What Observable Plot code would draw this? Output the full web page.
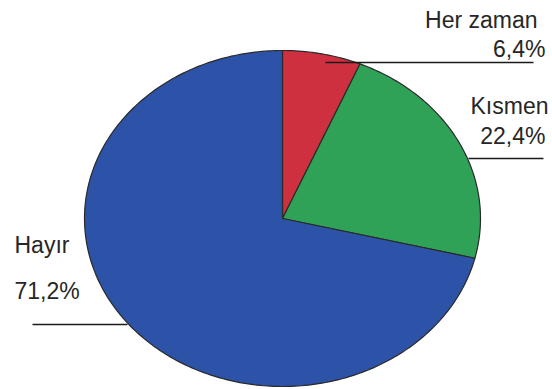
<!DOCTYPE html>
<html>
<head>
<meta charset="utf-8">
<script src="https://cdn.jsdelivr.net/npm/d3@7"></script>
<script src="https://cdn.jsdelivr.net/npm/@observablehq/plot@0.6"></script>
<style>
  html, body { margin: 0; padding: 0; background: #fff; }
  #chart svg { display: block; }
</style>
</head>
<body>
<div id="chart"></div>
<script>
// ---- data ----
const categories = ["Her zaman", "Kısmen", "Hayır"];
const values = [6.4, 22.4, 71.2];
const valueLabels = ["6,4%", "22,4%", "71,2%"];
const colors = ["#cf3040", "#2fa257", "#2c53a8"];

// ---- layout (pixel geometry of the elliptical pie) ----
const W = 552, H = 389;
const CX = 282, CY = 218, RX = 198, RY = 168;
const toX = px => (px - CX) / RX;
const toY = py => (CY - py) / RY;

// slices from values via d3.pie (clockwise from 12 o'clock)
const pie = d3.pie().sort(null).value(d => d.value);
const table = categories.map((c, i) => ({category: c, value: values[i]}));
const arcs = pie(table);
const slicePts = [];
arcs.forEach(a => {
  const key = a.data.category;
  slicePts.push({key, x: 0, y: 0});
  const steps = Math.max(4, Math.ceil((a.endAngle - a.startAngle) / (Math.PI / 180)));
  for (let k = 0; k <= steps; k++) {
    const t = a.startAngle + (a.endAngle - a.startAngle) * k / steps;
    slicePts.push({key, x: Math.sin(t), y: Math.cos(t)});
  }
  slicePts.push({key, x: 0, y: 0});
});

// label placement (annotation layout, in pixels)
const labelLayout = [
  {name: [537, 27], pct: [545, 56], line: [[325, 62], [533, 62]], anchor: "end"},
  {name: [548, 113], pct: [545, 143], line: [[468, 158], [543, 158]], anchor: "end"},
  {name: [14, 252], pct: [14, 298], line: [[32, 324], [127, 324]], anchor: "start"}
];
const nameText = categories.map((c, i) => ({text: c, x: toX(labelLayout[i].name[0]), y: toY(labelLayout[i].name[1]), anchor: labelLayout[i].anchor}));
const pctText = valueLabels.map((v, i) => ({text: v, x: toX(labelLayout[i].pct[0]), y: toY(labelLayout[i].pct[1]), anchor: labelLayout[i].anchor}));
const leaders = labelLayout.map(l => ({x1: toX(l.line[0][0]), y1: toY(l.line[0][1]), x2: toX(l.line[1][0]), y2: toY(l.line[1][1])}));

const textOpts = {fontSize: 23, fill: "#262626", lineAnchor: "bottom", fontFamily: "Liberation Sans, Arial, sans-serif"};

const chart = Plot.plot({
  width: W,
  height: H,
  margin: 0,
  style: {fontFamily: "Liberation Sans, Arial, sans-serif", background: "#fff"},
  x: {domain: [-1, 1], range: [CX - RX, CX + RX], axis: null},
  y: {domain: [-1, 1], range: [CY + RY, CY - RY], axis: null},
  color: {domain: categories, range: colors},
  marks: [
    Plot.line(slicePts, {x: "x", y: "y", z: "key", fill: "key", stroke: "#2a2a2a", strokeWidth: 1.2, curve: "linear-closed"}),
    Plot.link(leaders, {x1: "x1", y1: "y1", x2: "x2", y2: "y2", stroke: "#1a1a1a", strokeWidth: 1.5}),
    Plot.text(nameText.filter(d => d.anchor === "end"), {...textOpts, x: "x", y: "y", text: "text", textAnchor: "end"}),
    Plot.text(nameText.filter(d => d.anchor === "start"), {...textOpts, x: "x", y: "y", text: "text", textAnchor: "start"}),
    Plot.text(pctText.filter(d => d.anchor === "end"), {...textOpts, x: "x", y: "y", text: "text", textAnchor: "end"}),
    Plot.text(pctText.filter(d => d.anchor === "start"), {...textOpts, x: "x", y: "y", text: "text", textAnchor: "start"})
  ]
});
document.getElementById("chart").appendChild(chart);
</script>
</body>
</html>
